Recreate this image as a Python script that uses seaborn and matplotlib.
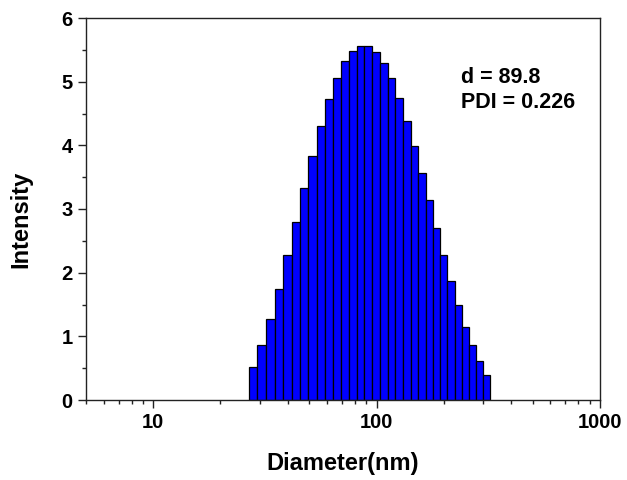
import numpy as np
import pandas as pd
import matplotlib
matplotlib.use("Agg")
import matplotlib.pyplot as plt
from matplotlib.ticker import MultipleLocator, LogLocator, NullFormatter
import seaborn as sns

# Size distribution
diameter = [27.95, 30.63, 33.43, 36.53, 39.87, 43.48, 47.36, 51.60, 56.27, 61.31,
            66.56, 72.13, 78.26, 84.64, 91.71, 99.5, 107.7, 116.5, 126.1, 136.5,
            147.8, 159.8, 171.8, 184.7, 199.5, 214.7, 232.2, 250.3, 269.9, 290.0, 311.1]
intensity = [0.52, 0.87, 1.28, 1.75, 2.27, 2.80, 3.33, 3.84, 4.31, 4.72,
             5.06, 5.32, 5.48, 5.56, 5.56, 5.46, 5.29, 5.05, 4.74, 4.39,
             3.99, 3.57, 3.14, 2.70, 2.28, 1.87, 1.50, 1.15, 0.86, 0.61, 0.40]
x_ticks = [10, 100, 1000]
x_ticklabels = ["10", "100", "1000"]
annotation = "d = 89.8\nPDI = 0.226"

df = pd.DataFrame({"Diameter": diameter, "Intensity": intensity})

sns.set_style("ticks")
plt.rcParams['font.family'] = ['Liberation Sans', 'DejaVu Sans']
plt.rcParams['font.weight'] = 'bold'
plt.rcParams['text.color'] = 'black'
plt.rcParams['axes.labelcolor'] = 'black'
plt.rcParams['xtick.color'] = 'black'
plt.rcParams['ytick.color'] = 'black'

# bin edges (log10) halfway between neighbouring diameters
logd = np.log10(diameter)
mids = (logd[1:] + logd[:-1]) / 2
edges = np.concatenate([[logd[0] - (mids[0] - logd[0])], mids,
                        [logd[-1] + (logd[-1] - mids[-1])]])

fig = plt.figure(figsize=(6.27, 4.8), dpi=100)
ax = fig.add_axes([86 / 627, 80 / 480, 514 / 627, 382 / 480])

sns.histplot(
    data=df,
    x="Diameter",
    weights="Intensity",
    bins=edges.tolist(),
    log_scale=True,
    color="#0000FF",
    edgecolor="black",
    linewidth=0.9,
    alpha=1,
    ax=ax,
)

ax.set_xlim(5, 1000)
ax.set_ylim(0, 6)
ax.xaxis.set_major_locator(LogLocator(base=10))
ax.xaxis.set_minor_locator(LogLocator(base=10, subs=np.arange(2, 10)))
ax.xaxis.set_minor_formatter(NullFormatter())
ax.set_xticks(x_ticks)
ax.set_xticklabels(x_ticklabels)
ax.yaxis.set_major_locator(MultipleLocator(1))
ax.yaxis.set_minor_locator(MultipleLocator(0.5))

for s in ax.spines.values():
    s.set_linewidth(1.0)
    s.set_color("#222222")
ax.tick_params(which="major", direction="out", length=5.5, width=1, pad=4,
               labelsize=14.5, color="#222222")
ax.tick_params(which="minor", direction="out", length=3, width=1, color="#222222")
for lab in ax.get_xticklabels() + ax.get_yticklabels():
    lab.set_fontweight("bold")

ax.set_xlabel("Diameter(nm)", fontsize=17, fontweight="bold", labelpad=14)
ax.set_ylabel("Intensity", fontsize=17, fontweight="bold")
ax.yaxis.set_label_coords(-0.105, 0.474)

ax.text(0.73, 0.872, annotation, transform=ax.transAxes, fontsize=15.5,
        fontweight="bold", va="top", ha="left", linespacing=1.28)

fig.savefig("out.png", dpi=100)
